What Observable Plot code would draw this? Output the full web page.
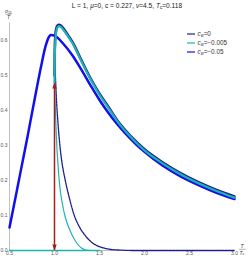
<!DOCTYPE html>
<html><head><meta charset="utf-8">
<script src="https://cdn.jsdelivr.net/npm/d3@7"></script>
<script src="https://cdn.jsdelivr.net/npm/@observablehq/plot@0.6"></script>
<style>
body{margin:0;background:#fff}
svg{font-family:"Liberation Sans",Arial,sans-serif}
</style>
</head><body><div id="chart"></div>
<script>
// ---- data (T/Tc, sigma11/T) ----
const xTicks = [0.5, 1.0, 1.5, 2.0, 2.5, 3.0];
const yTicks = [0.0, 0.1, 0.2, 0.3, 0.4, 0.5, 0.6];

// c_B = -0.05 (blue)
const tBlue = [0.5,0.55,0.6,0.65,0.7,0.75,0.8,0.85,0.9,0.93,0.96,1.0,1.1,1.2,1.3,1.4,1.5,1.6,1.7,1.8,1.9,2.0,2.2,2.4,2.6,2.8,3.0];
const sBlue = [0.066,0.13,0.195,0.26,0.325,0.393,0.46,0.525,0.583,0.606,0.616,0.614,0.59,0.557,0.516,0.472,0.43,0.393,0.36,0.331,0.305,0.282,0.243,0.212,0.187,0.165,0.147];

// upper branches c_B = 0 (navy) and c_B = -0.005 (teal)
const tUpper = [1.0,1.003,1.01,1.02,1.035,1.05,1.07,1.1,1.15,1.2,1.3,1.4,1.5,1.6,1.7,1.8,1.9,2.0,2.2,2.4,2.6,2.8,3.0];
const sNavyUpper = [0.5,0.575,0.615,0.634,0.643,0.645,0.643,0.634,0.615,0.595,0.543,0.492,0.448,0.41,0.371,0.34,0.313,0.289,0.252,0.221,0.195,0.173,0.154];
const sTealUpper = [0.48,0.55,0.6,0.625,0.638,0.641,0.639,0.63,0.612,0.592,0.54,0.489,0.445,0.407,0.368,0.337,0.31,0.286,0.249,0.218,0.192,0.17,0.151];

// lower (thin) branches
const tNavyLower = [1.0,1.01,1.02,1.04,1.06,1.08,1.12,1.17,1.22,1.28,1.35,1.42,1.5,1.6,1.75,1.9,2.5,3.0];
const sNavyLower = [0.56,0.5,0.44,0.36,0.3,0.257,0.2,0.145,0.1,0.066,0.04,0.022,0.011,0.004,0.001,0,0,0];
const tTealLower = [1.0,1.01,1.02,1.04,1.06,1.09,1.12,1.16,1.2,1.25,1.3,1.35,1.4];
const sTealLower = [0.48,0.4,0.33,0.24,0.18,0.13,0.095,0.065,0.042,0.02,0.007,0.001,0];

// zero branch (teal) below Tc
const tTealZero = [0.5, 1.5];
const sTealZero = [0, 0];

// red double arrow at Tc
const tArrow = [1.0];
const sArrowTop = [0.48];
const sArrowBottom = [0.0];

// legend
const legendLabels = ["0", "\u22120.005", "\u22120.05"];

// ---- colours ----
const NAVY = "#1f1f8f", TEAL = "#1fb3b0", BLUE = "#1010ee", RED = "#a81c1c";

const rows = (ts, vs) => ts.map((t, i) => ({t, v: vs[i]}));
const arrowRows = tArrow.map((t, i) => ({t, top: sArrowTop[i], bottom: sArrowBottom[i]}));

const headUp = {draw(ctx){ ctx.moveTo(0,0); ctx.lineTo(-2.2,6); ctx.lineTo(2.2,6); ctx.closePath(); }};
const headDown = {draw(ctx){ ctx.moveTo(0,0); ctx.lineTo(-2.2,-6); ctx.lineTo(2.2,-6); ctx.closePath(); }};

const chart = Plot.plot({
  width: 249, height: 258,
  marginLeft: 9, marginRight: 15, marginTop: 22.5, marginBottom: 8,
  x: {domain: [0.5, 3.0]},
  y: {domain: [0, 0.65]},
  style: {background: "white", fontFamily: "Liberation Sans, Arial, sans-serif"},
  marks: [
    Plot.ruleX([0.5], {stroke: "#b0b0b0", strokeWidth: 0.8}),
    Plot.ruleY([0], {stroke: "#b0b0b0", strokeWidth: 0.8}),
    Plot.axisX({ticks: xTicks, tickFormat: d => d.toFixed(1), fontSize: 5, tickSize: 0, tickPadding: 1, color: "#555", label: null}),
    Plot.axisY({ticks: yTicks, tickFormat: d => d.toFixed(1), fontSize: 5, tickSize: 0, tickPadding: 2, color: "#555", label: null}),
    Plot.line(rows(tTealZero, sTealZero), {x: "t", y: "v", stroke: TEAL, strokeWidth: 1.6}),
    Plot.line(rows(tNavyLower, sNavyLower), {x: "t", y: "v", stroke: NAVY, strokeWidth: 1.3, strokeDasharray: "2.5,0.8", curve: "monotone-x"}),
    Plot.line(rows(tTealLower, sTealLower), {x: "t", y: "v", stroke: TEAL, strokeWidth: 1.2, curve: "monotone-x"}),
    Plot.ruleX(arrowRows, {x: "t", y1: "bottom", y2: "top", stroke: RED, strokeWidth: 1.5}),
    Plot.dot(arrowRows, {x: "t", y: "top", symbol: headUp, fill: RED, stroke: "none", r: 3}),
    Plot.dot(arrowRows, {x: "t", y: "bottom", symbol: headDown, fill: RED, stroke: "none", r: 3}),
    Plot.line(rows(tBlue, sBlue), {x: "t", y: "v", stroke: BLUE, strokeWidth: 2.5, curve: "monotone-x"}),
    Plot.line(rows(tUpper, sNavyUpper), {x: "t", y: "v", stroke: NAVY, strokeWidth: 2.6, curve: "monotone-x"}),
    Plot.line(rows(tUpper, sTealUpper), {x: "t", y: "v", stroke: TEAL, strokeWidth: 2.2, curve: "monotone-x"})
  ]
});
document.getElementById("chart").appendChild(chart);

const svg = d3.select(chart);
// title
const title = svg.append("text").attr("x", 127).attr("y", 7.5).attr("text-anchor", "middle")
  .attr("font-size", 6.6).attr("fill", "#222");
title.append("tspan").text("L = 1, ");
title.append("tspan").attr("font-style", "italic").text("\u03bc");
title.append("tspan").text("=0, c = 0.227, ");
title.append("tspan").attr("font-style", "italic").text("\u03bd");
title.append("tspan").text("=4.5, ");
title.append("tspan").attr("font-style", "italic").text("T");
title.append("tspan").attr("font-size", 4.6).attr("dy", 1.5).text("c");
title.append("tspan").attr("dy", -1.5).text("=0.118");

// y label (fraction)
const yl = svg.append("g").attr("fill", "#333").attr("font-size", 5).attr("text-anchor", "middle");
const yt = yl.append("text").attr("x", 8.5).attr("y", 13);
yt.append("tspan").attr("font-style", "italic").text("\u03c3");
yt.append("tspan").attr("font-size", 3.8).attr("dy", 0.8).text("11");
yl.append("line").attr("x1", 5.5).attr("x2", 11.5).attr("y1", 14.3).attr("y2", 14.3).attr("stroke", "#333").attr("stroke-width", 0.4);
yl.append("text").attr("x", 8.5).attr("y", 19).attr("font-style", "italic").text("T");

// x label (fraction)
const xl = svg.append("g").attr("fill", "#333").attr("font-size", 5).attr("text-anchor", "middle");
xl.append("text").attr("x", 242).attr("y", 248).attr("font-style", "italic").text("T");
xl.append("line").attr("x1", 239).attr("x2", 245.5).attr("y1", 249.3).attr("y2", 249.3).attr("stroke", "#333").attr("stroke-width", 0.4);
const xt = xl.append("text").attr("x", 242).attr("y", 254.5);
xt.append("tspan").attr("font-style", "italic").text("T");
xt.append("tspan").attr("font-size", 3.8).attr("dy", 0.8).text("c");

// legend
const legColors = [NAVY, TEAL, BLUE];
const lg = svg.append("g").attr("fill", "#333");
legendLabels.forEach((lab, i) => {
  const y = 34 + i * 9;
  lg.append("line").attr("x1", 187).attr("x2", 195).attr("y1", y).attr("y2", y).attr("stroke", legColors[i]).attr("stroke-width", 1.2);
  const t = lg.append("text").attr("x", 197.5).attr("y", y + 2).attr("font-size", 6.4).attr("text-anchor", "start");
  t.append("tspan").attr("font-style", "italic").text("c");
  t.append("tspan").attr("font-style", "italic").attr("font-size", 4.4).attr("dy", 1.2).text("B");
  t.append("tspan").attr("dy", -1.2).text("=" + lab);
});
</script>
</body></html>
